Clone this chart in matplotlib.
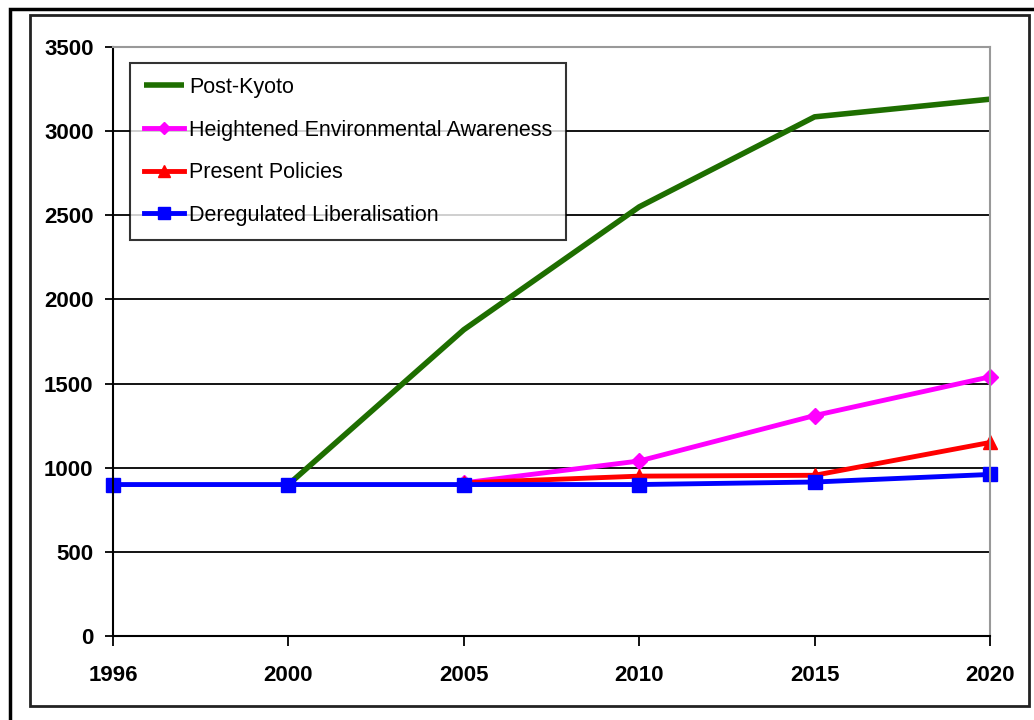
import matplotlib.pyplot as plt
from matplotlib.patches import Rectangle

years = ['1996', '2000', '2005', '2010', '2015', '2020']
post_kyoto = [None, 900, 1820, 2550, 3085, 3190]
heightened = [None, None, 910, 1040, 1310, 1540]
present = [None, None, 910, 950, 955, 1150]
deregulated = [900, 900, 900, 900, 915, 960]

plt.rcParams['font.family'] = ['Liberation Sans', 'DejaVu Sans']

fig = plt.figure(figsize=(10.34, 7.2), dpi=100)
ax = fig.add_axes([113 / 1034, 1 - 636 / 720, 877 / 1034, 589 / 720])

x = list(range(len(years)))

def pts(vals):
    xs = [i for i, v in zip(x, vals) if v is not None]
    ys = [v for v in vals if v is not None]
    return xs, ys

ax.plot(*pts(post_kyoto), color='#1e6e00', lw=4, label='Post-Kyoto',
        solid_capstyle='butt', clip_on=False)
ax.plot(*pts(heightened), color='#ff00ff', lw=3.5, marker='D', ms=8,
        label='Heightened Environmental Awareness', clip_on=False)
ax.plot(*pts(present), color='#ff0000', lw=3.5, marker='^', ms=10,
        label='Present Policies', clip_on=False)
ax.plot(*pts(deregulated), color='#0000ff', lw=3.5, marker='s', ms=10,
        label='Deregulated Liberalisation', clip_on=False)

ax.set_xlim(0, 5)
ax.set_ylim(0, 3500)
ax.set_xticks(x)
ax.set_xticklabels(years)
ax.set_yticks(range(0, 3501, 500))
ax.yaxis.grid(True, color='black', lw=1.3)
ax.set_axisbelow(True)
for lab in ax.get_xticklabels() + ax.get_yticklabels():
    lab.set_fontweight('bold')
    lab.set_fontsize(16)
ax.tick_params(axis='x', length=7, width=1.3, pad=14)
ax.tick_params(axis='y', length=6, width=1.3, pad=8)

for s in ['top', 'right']:
    ax.spines[s].set_color('#999999')
    ax.spines[s].set_linewidth(1.5)
for s in ['left', 'bottom']:
    ax.spines[s].set_linewidth(1.5)

leg = ax.legend(loc='upper left', bbox_to_anchor=(17 / 877, 1 - 16 / 589),
                fontsize=15.5, frameon=True, fancybox=False, edgecolor='black',
                handlelength=1.85, handletextpad=0.25, labelspacing=1.0,
                borderpad=0.65, borderaxespad=0, markerscale=0.8)
leg.get_frame().set_linewidth(1.5)

# page frame around the chart
fig.patches.append(Rectangle((10 / 1034, -0.1), 1.2, 1 - 9 / 720 + 0.1,
                             transform=fig.transFigure, fill=False, lw=2.5,
                             edgecolor='black'))
fig.patches.append(Rectangle((30 / 1034, 1 - 706 / 720), 999 / 1034, 691 / 720,
                             transform=fig.transFigure, fill=False, lw=2,
                             edgecolor='#222222'))

fig.savefig('out.png', dpi=100)
